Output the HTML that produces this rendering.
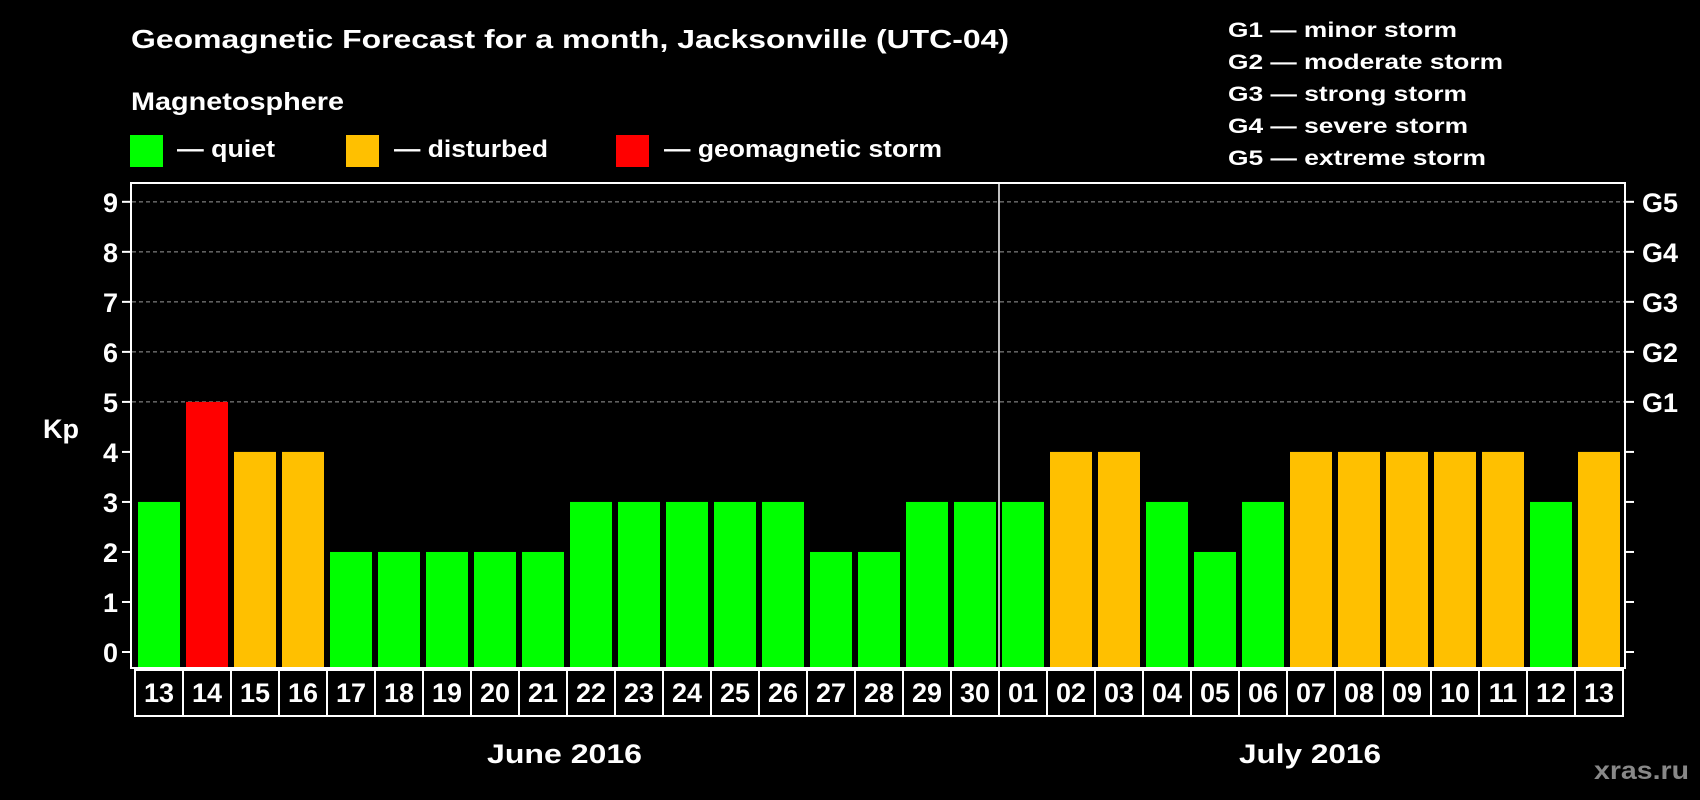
<!DOCTYPE html>
<html><head><meta charset="utf-8"><style>html,body{margin:0;padding:0;background:#000;}svg{display:block}</style></head><body>
<svg width="1700" height="800" xmlns="http://www.w3.org/2000/svg" font-family="Liberation Sans, Arial, sans-serif" font-weight="bold">
<rect width="1700" height="800" fill="#000"/>
<text x="131" y="48" fill="#fff" font-size="26" textLength="878" lengthAdjust="spacingAndGlyphs">Geomagnetic Forecast for a month, Jacksonville (UTC-04)</text>
<text x="131" y="110" fill="#fff" font-size="25" textLength="213" lengthAdjust="spacingAndGlyphs">Magnetosphere</text>
<rect x="130" y="135" width="33" height="32" fill="#00ff00"/>
<rect x="346" y="135" width="33" height="32" fill="#ffc000"/>
<rect x="616" y="135" width="33" height="32" fill="#ff0000"/>
<text x="177" y="157" fill="#fff" font-size="24" textLength="98" lengthAdjust="spacingAndGlyphs">— quiet</text>
<text x="394" y="157" fill="#fff" font-size="24" textLength="154" lengthAdjust="spacingAndGlyphs">— disturbed</text>
<text x="664" y="157" fill="#fff" font-size="24" textLength="278" lengthAdjust="spacingAndGlyphs">— geomagnetic storm</text>
<g fill="#fff" font-size="21">
<text x="1228" y="37" textLength="229" lengthAdjust="spacingAndGlyphs">G1 — minor storm</text>
<text x="1228" y="69" textLength="275" lengthAdjust="spacingAndGlyphs">G2 — moderate storm</text>
<text x="1228" y="101" textLength="239" lengthAdjust="spacingAndGlyphs">G3 — strong storm</text>
<text x="1228" y="133" textLength="240" lengthAdjust="spacingAndGlyphs">G4 — severe storm</text>
<text x="1228" y="165" textLength="258" lengthAdjust="spacingAndGlyphs">G5 — extreme storm</text>
</g>
<g id="grid" stroke="#999" stroke-width="1" stroke-dasharray="4,3"></g>
<g id="bars"></g>
<rect x="131" y="183" width="1494" height="485" fill="none" stroke="#fff" stroke-width="2"/>
<line x1="999" x2="999" y1="183" y2="668" stroke="#fff" stroke-width="1.5"/>
<g id="ticks" stroke="#fff" stroke-width="2"></g>
<g id="ylab" fill="#fff" font-size="27"></g>
<text x="43" y="438" fill="#fff" font-size="27">Kp</text>
<g id="dates"></g>
<text x="487" y="763" fill="#fff" font-size="27" textLength="155" lengthAdjust="spacingAndGlyphs">June 2016</text>
<text x="1239" y="763" fill="#fff" font-size="27" textLength="142" lengthAdjust="spacingAndGlyphs">July 2016</text>
<text x="1594" y="779" fill="#888" font-size="25" textLength="95" lengthAdjust="spacingAndGlyphs">xras.ru</text>
</svg>
<script>
const NS="http://www.w3.org/2000/svg";
function el(p,t,a,txt){const e=document.createElementNS(NS,t);for(const k in a)e.setAttribute(k,a[k]);if(txt!==undefined)e.textContent=txt;document.getElementById(p).appendChild(e);}
const v=[3,5,4,4,2,2,2,2,2,3,3,3,3,3,2,2,3,3,3,4,4,3,2,3,4,4,4,4,4,3,4];
const d=["13","14","15","16","17","18","19","20","21","22","23","24","25","26","27","28","29","30","01","02","03","04","05","06","07","08","09","10","11","12","13"];
const u=50.02,y0=652;
for(let k=5;k<=9;k++){const y=y0-k*u;el("grid","line",{x1:132,x2:1624,y1:y,y2:y});}
v.forEach((k,i)=>{const c=k>=5?"#ff0000":k==4?"#ffc000":"#00ff00";const x=138+i*48;
el("bars","rect",{x:x,y:y0-k*u,width:42,height:668-(y0-k*u),fill:c});
el("dates","rect",{x:135+i*48,y:670,width:48,height:46,fill:"none",stroke:"#fff","stroke-width":2});
el("dates","text",{x:159+i*48,y:702,fill:"#fff","font-size":27,"text-anchor":"middle"},d[i]);});
for(let k=0;k<=9;k++){const y=y0-k*u;
el("ticks","line",{x1:122,x2:131,y1:y,y2:y});el("ticks","line",{x1:1625,x2:1634,y1:y,y2:y});
el("ylab","text",{x:118,y:y+10,"text-anchor":"end"},String(k));
if(k>=5)el("ylab","text",{x:1642,y:y+10},"G"+(k-4));}
</script>
</body></html>
